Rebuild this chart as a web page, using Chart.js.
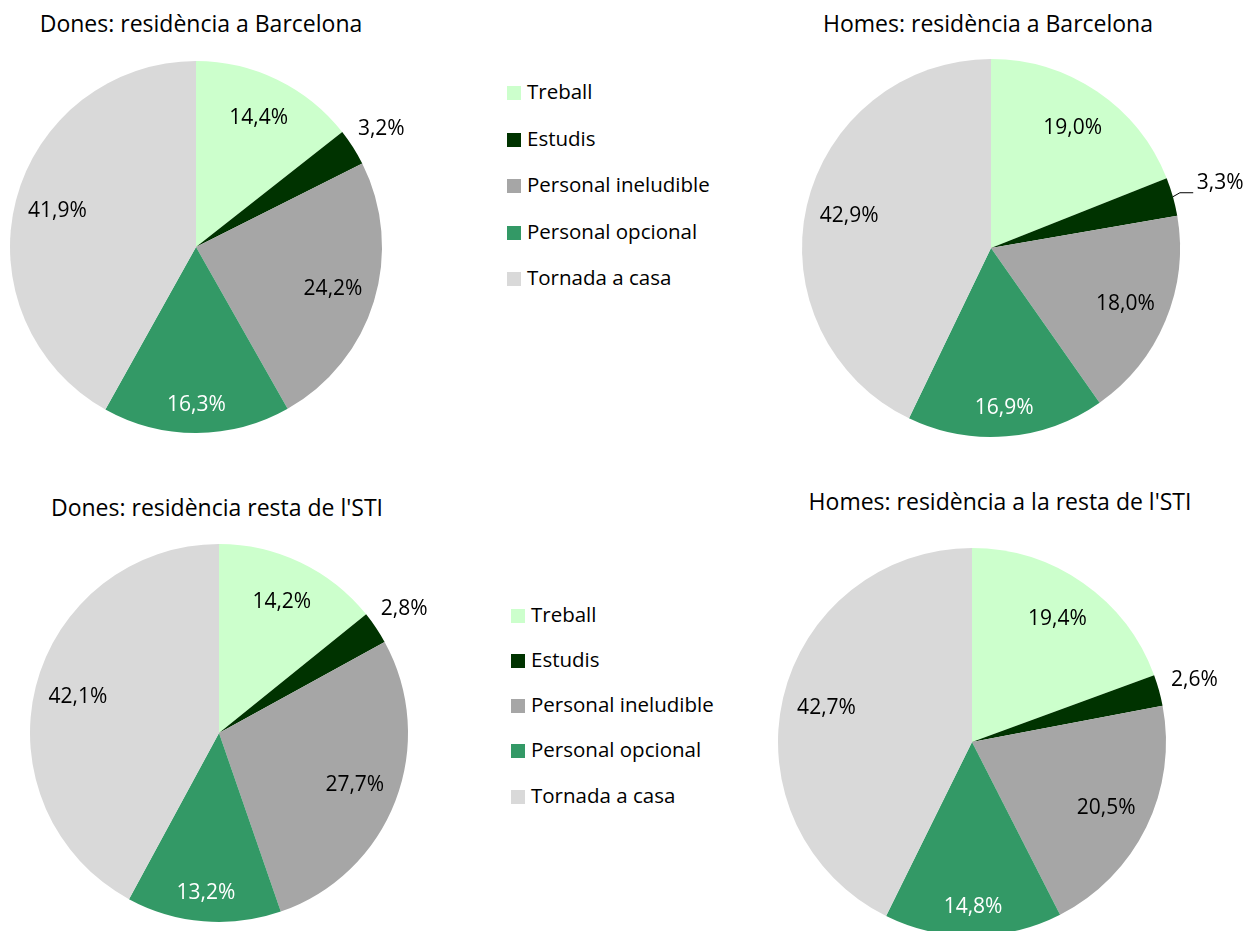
<!DOCTYPE html>
<html>
<head>
<meta charset="utf-8">
<script src="https://cdn.jsdelivr.net/npm/chart.js@4.4.1/dist/chart.umd.min.js"></script>
<style>
  body { margin: 0; background: #fff; width: 1248px; height: 931px; overflow: hidden; position: relative; font-family: "Open Sans", sans-serif; color: #000; }
  canvas { position: absolute; }
  .title { position: absolute; font-size: 23px; white-space: nowrap; transform: translate(-50%, -50%); }
  .legend { position: absolute; font-size: 20.5px; }
  .legend div { position: absolute; left: 0; white-space: nowrap; transform: translateY(-50%); }
  .legend span { display: inline-block; width: 14px; height: 14px; margin-right: 6px; vertical-align: -1px; }
</style>
</head>
<body>
<script>
const categories = ['Treball', 'Estudis', 'Personal ineludible', 'Personal opcional', 'Tornada a casa'];
const donesBcn = [14.4, 3.2, 24.2, 16.3, 41.9];
const homesBcn = [19.0, 3.3, 18.0, 16.9, 42.9];
const donesSti = [14.2, 2.8, 27.7, 13.2, 42.1];
const homesSti = [19.4, 2.6, 20.5, 14.8, 42.7];

const colors = ['#CCFFCC', '#003300', '#A6A6A6', '#339966', '#D9D9D9'];
const labelColors = ['#000', '#000', '#000', '#fff', '#000'];

// where each pie goes on the page (centre, radius) + title spot
const charts = [
  { title: 'Dones: residència a Barcelona', data: donesBcn, cx: 196, cy: 247, r: 186, tx: 201, ty: 23, labelPos: [0.77, 1.18, 0.77, 0.85, 0.77] },
  { title: 'Homes: residència a Barcelona', data: homesBcn, cx: 991, cy: 248, r: 189, tx: 988, ty: 23, labelPos: [0.77, 1.26, 0.77, 0.85, 0.77], leader: 1 },
  { title: "Dones: residència resta de l'STI", data: donesSti, cx: 219, cy: 733, r: 189, tx: 217, ty: 507, labelPos: [0.77, 1.18, 0.77, 0.85, 0.77] },
  { title: "Homes: residència a la resta de l'STI", data: homesSti, cx: 972, cy: 742, r: 194, tx: 1000, ty: 501, labelPos: [0.77, 1.19, 0.77, 0.85, 0.77] }
];

const fmt = v => v.toFixed(1).replace('.', ',') + '%';

// data labels, Excel style
const pieLabels = {
  id: 'pieLabels',
  afterDatasetsDraw(chart, args, opts) {
    const ctx = chart.ctx;
    const meta = chart.getDatasetMeta(0);
    const values = chart.data.datasets[0].data;
    ctx.save();
    ctx.font = '21px "Open Sans"';
    ctx.textAlign = 'center';
    ctx.textBaseline = 'middle';
    meta.data.forEach((arc, i) => {
      const p = arc.getProps(['x', 'y', 'startAngle', 'endAngle', 'outerRadius'], true);
      const mid = (p.startAngle + p.endAngle) / 2;
      const d = p.outerRadius * opts.pos[i];
      let lx = p.x + Math.cos(mid) * d;
      let ly = p.y + Math.sin(mid) * d;
      if (opts.leader === i) {
        const sx = p.x + Math.cos(mid) * p.outerRadius;
        const sy = p.y + Math.sin(mid) * p.outerRadius;
        ctx.strokeStyle = '#000';
        ctx.lineWidth = 1;
        ctx.beginPath();
        ctx.moveTo(sx, sy);
        ctx.lineTo(sx + 7, sy - 4);
        ctx.lineTo(lx - 27, sy - 4);
        ctx.stroke();
      }
      ctx.fillStyle = labelColors[i];
      ctx.fillText(fmt(values[i]), lx, ly);
    });
    ctx.restore();
  }
};

charts.forEach((c, k) => {
  const left = k % 2 === 0 ? 0 : 760;
  const top = k < 2 ? 40 : 520;
  const w = k % 2 === 0 ? 470 : 488;
  const h = 440;

  const t = document.createElement('div');
  t.className = 'title';
  t.style.left = c.tx + 'px';
  t.style.top = c.ty + 'px';
  t.textContent = c.title;
  document.body.appendChild(t);

  const cv = document.createElement('canvas');
  cv.width = w;
  cv.height = h;
  cv.style.left = left + 'px';
  cv.style.top = top + 'px';
  document.body.appendChild(cv);

  new Chart(cv.getContext('2d'), {
    type: 'pie',
    data: {
      labels: categories,
      datasets: [{
        data: c.data,
        backgroundColor: colors,
        borderWidth: 0,
        hoverOffset: 0
      }]
    },
    options: {
      responsive: false,
      animation: false,
      events: [],
      layout: {
        padding: {
          left: c.cx - c.r - left,
          top: c.cy - c.r - top,
          right: w - (c.cx + c.r - left),
          bottom: h - (c.cy + c.r - top)
        }
      },
      plugins: {
        legend: { display: false },
        tooltip: { enabled: false },
        pieLabels: { pos: c.labelPos, leader: c.leader }
      }
    },
    plugins: [pieLabels]
  });
});

// the two legends in the middle column
const legends = [
  { x: 507, rows: [91, 138, 184, 231, 277] },
  { x: 511, rows: [614, 659, 704, 749, 795] }
];
legends.forEach(lg => {
  const box = document.createElement('div');
  box.className = 'legend';
  box.style.left = lg.x + 'px';
  box.style.top = '0px';
  categories.forEach((name, i) => {
    const row = document.createElement('div');
    row.style.top = lg.rows[i] + 'px';
    row.innerHTML = '<span style="background:' + colors[i] + '"></span>' + name;
    box.appendChild(row);
  });
  document.body.appendChild(box);
});
</script>
</body>
</html>
